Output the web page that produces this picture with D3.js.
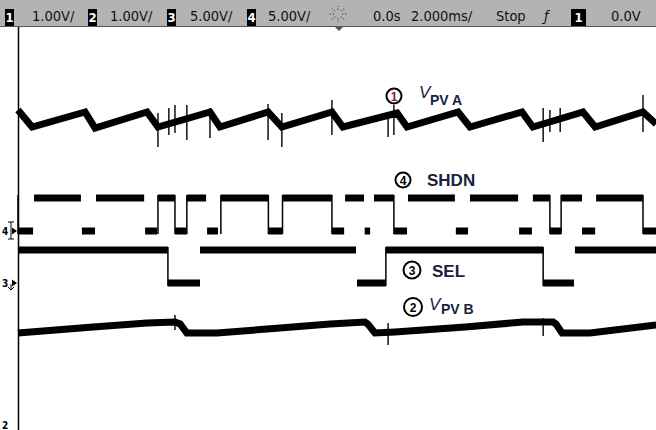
<!DOCTYPE html>
<html>
<head>
<meta charset="utf-8">
<script src="https://cdn.jsdelivr.net/npm/d3@7"></script>
<style>
body { margin:0; background:#fff; }
</style>
</head>
<body>
<svg id="scope" width="656" height="430"></svg>
<script>
// time in ms, values in volts
var vpvaTime  = [-10.00, -9.56, -7.91, -7.60, -5.98, -5.64, -4.02, -3.71, -2.21, -1.78, -0.22, 0.12, 1.81, 2.12, 3.71, 4.08, 5.70, 6.04, 7.60, 7.98, 9.47, 9.88];
var vpvaVolts = [10.34, 10.00, 10.30, 9.98, 10.30, 10.00, 10.30, 10.00, 10.30, 10.00, 10.30, 10.00, 10.28, 10.00, 10.30, 10.00, 10.30, 10.00, 10.30, 10.00, 10.30, 10.06];

var vpvaSpikeTime = [-5.64, -5.30, -5.11, -4.74, -4.02, -2.21, -1.78, -0.22, 1.53, 1.71, 6.36, 6.57, 6.89, 9.47];
var vpvaSpikeHi   = [10.28, 10.38, 10.44, 10.44, 10.38, 10.46, 10.28, 10.54, 10.28, 10.44, 10.38, 10.34, 10.38, 10.64];
var vpvaSpikeLo   = [9.60, 9.84, 9.88, 9.74, 9.78, 9.74, 9.60, 9.84, 9.80, 9.84, 9.70, 9.90, 9.90, 9.90];

var vpvbTime  = [-10.00, -7.66, -5.98, -5.11, -4.95, -4.74, -3.80, -1.84, -0.28, 0.81, 0.90, 1.12, 1.74, 3.93, 5.73, 6.67, 6.76, 6.95, 7.82, 9.88];
var vpvbVolts = [9.88, 10.00, 10.08, 10.10, 10.06, 9.88, 9.88, 9.98, 10.06, 10.10, 10.06, 9.88, 9.90, 10.00, 10.10, 10.10, 10.06, 9.88, 9.88, 10.04];

var vpvbSpikeTime = [-5.11, 1.53, 6.36];
var vpvbSpikeHi   = [10.24, 10.08, 10.18];
var vpvbSpikeLo   = [9.94, 9.64, 9.82];

// digital traces : [start, end, level]
var shdnSegs = [[-10.00,-9.53,0],[-9.50,-8.04,3.3],[-8.01,-7.60,0],[-7.57,-6.07,3.3],[-6.04,-5.67,0],[-5.64,-5.11,3.3],
  [-5.11,-4.74,0],[-4.74,-4.14,3.3],[-4.11,-3.77,0],[-3.68,-2.20,3.3],[-2.20,-1.76,0],[-1.76,-0.22,3.3],[-0.22,0.16,0],
  [0.19,0.78,3.3],[0.80,0.97,0],[1.09,1.71,3.3],[1.71,2.12,0],[2.15,3.61,3.3],[3.64,4.02,0],[4.08,5.58,3.3],[5.61,6.01,0],
  [6.04,6.57,3.3],[6.57,6.92,0],[6.92,7.57,3.3],[7.57,7.98,0],[8.01,9.47,3.3],[9.47,10.00,0]];
var shdnEdges = [-10.00, -5.64, -5.11, -4.74, -3.68, -2.20, -1.76, -0.22, 1.71, 6.57, 6.92, 9.47];

var selSegs = [[-10.00,-5.33,3.3],[-5.33,-4.33,0],[-4.33,0.53,3.3],[0.56,1.46,0],[1.46,6.36,3.3],[6.36,7.32,0],[7.35,10.00,3.3]];
var selEdges = [-5.33, 1.46, 6.36];

// channel setup: volts/div and screen centre voltage
var chVoltsDiv = [1, 1, 5, 5];
var chCenter   = [8, 12, 5.6, 0.4];
var chLabels   = ["1.00V/", "1.00V/", "5.00V/", "5.00V/"];

var svg = d3.select("#scope");
var screenTop = 27, screenBottom = 427;

var xScale = d3.scaleLinear().domain([-10, 10]).range([18, 660]);

function chScale(i){
  return d3.scaleLinear()
    .domain([chCenter[i] - 4*chVoltsDiv[i], chCenter[i] + 4*chVoltsDiv[i]])
    .range([screenBottom, screenTop]);
}
var y1 = chScale(0), y2 = chScale(1), y3 = chScale(2), y4 = chScale(3);

// status bar
svg.append("rect").attr("x",0).attr("y",0).attr("width",656).attr("height",26).attr("fill","#b3b3b3");
svg.append("line").attr("x1",0).attr("x2",656).attr("y1",26.5).attr("y2",26.5).attr("stroke","#555").attr("stroke-width",1);

var bar = svg.append("g")
  .attr("font-family","'DejaVu Sans Condensed', 'DejaVu Sans'")
  .attr("font-size","14.5px");

var boxX = [5, 88, 167, 247];
var labelX = [32, 110, 190, 268];
for(var i=0; i<4; i++){
  bar.append("rect").attr("x",boxX[i]).attr("y",9).attr("width",9).attr("height",17).attr("fill","#000");
  bar.append("text").attr("x",boxX[i]+4.5).attr("y",22).attr("text-anchor","middle")
    .attr("fill","#fff").attr("font-weight","bold").attr("font-size","13px").text(i+1);
  bar.append("text").attr("x",labelX[i]).attr("y",21).attr("fill","#111").text(chLabels[i]);
}

// acquisition icon
for(var a=0; a<8; a++){
  var ang = a*Math.PI/4;
  bar.append("line")
    .attr("x1",338+4*Math.cos(ang)).attr("y1",14+4*Math.sin(ang))
    .attr("x2",338+9*Math.cos(ang)).attr("y2",14+8*Math.sin(ang))
    .attr("stroke","#444").attr("stroke-width",1).attr("stroke-dasharray","1.5,1.5");
}
svg.append("path").attr("d","M335,27 L343,27 L339,31 Z").attr("fill","#555");

bar.append("text").attr("x",373).attr("y",21).attr("fill","#111").text("0.0s");
bar.append("text").attr("x",411).attr("y",21).attr("fill","#111").text("2.000ms/");
bar.append("text").attr("x",496).attr("y",21).attr("fill","#111").text("Stop");
bar.append("text").attr("x",544).attr("y",21).attr("fill","#111").attr("font-style","italic").text("ƒ");
bar.append("rect").attr("x",571).attr("y",9).attr("width",15).attr("height",17).attr("fill","#000");
bar.append("text").attr("x",578.5).attr("y",22).attr("text-anchor","middle").attr("fill","#fff").attr("font-weight","bold").attr("font-size","13px").text("1");
bar.append("text").attr("x",611).attr("y",21).attr("fill","#111").text("0.0V");

// left screen edge
svg.append("line").attr("x1",18.5).attr("x2",18.5).attr("y1",27).attr("y2",430)
  .attr("stroke","#000").attr("stroke-width",1.5);

// ground markers
var g4 = y4(0), g3 = y3(0);
var gm = svg.append("g").attr("font-family","'DejaVu Sans Condensed'").attr("font-size","10px").attr("font-weight","bold");
gm.append("text").attr("x",2).attr("y",g4+3.5).text("4");
gm.append("path").attr("d","M12,"+(g4-3.5)+" L17,"+g4+" L12,"+(g4+3.5)+" Z").attr("fill","#000");
gm.append("path").attr("d","M8,"+(g4-9)+" H14 M11,"+(g4-9)+" V"+(g4+8)+" M8,"+(g4+8)+" H14")
  .attr("stroke","#000").attr("stroke-width",1).attr("fill","none");
gm.append("text").attr("x",2).attr("y",g3+3.5).text("3");
gm.append("path").attr("d","M12,"+(g3-3.5)+" L17,"+g3+" L12,"+(g3+3.5)+" Z").attr("fill","#000");
gm.append("path").attr("d","M11,"+(g3+1)+" V"+(g3+7)+" M8,"+(g3+4)+" L11,"+(g3+7)+" L14,"+(g3+4))
  .attr("stroke","#000").attr("stroke-width",1).attr("fill","none");
gm.append("text").attr("x",2).attr("y",429).text("2");

// analog traces
var line1 = d3.line().x(function(d){ return xScale(d[0]); }).y(function(d){ return y1(d[1]); });
var line2 = d3.line().x(function(d){ return xScale(d[0]); }).y(function(d){ return y2(d[1]); });

svg.append("path").datum(d3.zip(vpvaTime, vpvaVolts))
  .attr("d", line1).attr("fill","none").attr("stroke","#000")
  .attr("stroke-width",7).attr("stroke-linejoin","miter");

svg.selectAll(".spikeA")
  .data(d3.range(vpvaSpikeTime.length))
  .enter().append("line")
  .attr("class","spikeA")
  .attr("x1", function(i){ return xScale(vpvaSpikeTime[i]); })
  .attr("x2", function(i){ return xScale(vpvaSpikeTime[i]); })
  .attr("y1", function(i){ return y1(vpvaSpikeHi[i]); })
  .attr("y2", function(i){ return y1(vpvaSpikeLo[i]); })
  .attr("stroke","#000").attr("stroke-width",1.4);

svg.append("path").datum(d3.zip(vpvbTime, vpvbVolts))
  .attr("d", line2).attr("fill","none").attr("stroke","#000")
  .attr("stroke-width",7);

svg.selectAll(".spikeB")
  .data(d3.range(vpvbSpikeTime.length))
  .enter().append("line")
  .attr("class","spikeB")
  .attr("x1", function(i){ return xScale(vpvbSpikeTime[i]); })
  .attr("x2", function(i){ return xScale(vpvbSpikeTime[i]); })
  .attr("y1", function(i){ return y2(vpvbSpikeHi[i]); })
  .attr("y2", function(i){ return y2(vpvbSpikeLo[i]); })
  .attr("stroke","#000").attr("stroke-width",1.4);

// digital traces
function DrawDigital(segs, edges, yS, cls, w){
  svg.selectAll("." + cls)
    .data(segs)
    .enter().append("line")
    .attr("class", cls)
    .attr("x1", function(d){ return xScale(d[0]); })
    .attr("x2", function(d){ return xScale(d[1]); })
    .attr("y1", function(d){ return yS(d[2]); })
    .attr("y2", function(d){ return yS(d[2]); })
    .attr("stroke","#000").attr("stroke-width",w);
  svg.selectAll("." + cls + "e")
    .data(edges)
    .enter().append("line")
    .attr("class", cls + "e")
    .attr("x1", function(d){ return xScale(d); })
    .attr("x2", function(d){ return xScale(d); })
    .attr("y1", yS(0) + 3)
    .attr("y2", yS(3.3) - 3)
    .attr("stroke","#000").attr("stroke-width",1.5);
}
DrawDigital(shdnSegs, shdnEdges, y4, "shdn", 7);
DrawDigital(selSegs, selEdges, y3, "sel", 7);

// channel annotations
var ann = svg.append("g").attr("font-family","'Liberation Sans', Arial, sans-serif");
function Badge(cx, cy, r, num, col){
  ann.append("circle").attr("cx",cx).attr("cy",cy).attr("r",r)
    .attr("fill","#fff").attr("stroke","#000").attr("stroke-width",2);
  ann.append("text").attr("x",cx).attr("y",cy+4.5).attr("text-anchor","middle")
    .attr("font-size","12px").attr("font-weight","bold").attr("fill",col).text(num);
}
Badge(394, 96, 7.5, "1", "#8b1a1a");
ann.append("text").attr("x",419).attr("y",98).attr("font-size","17px").attr("font-style","italic").attr("fill","#1a2140").text("V");
ann.append("text").attr("x",430).attr("y",105).attr("font-size","14px").attr("font-weight","bold").attr("fill","#1a2140").text("PV A");

Badge(403, 180, 7.5, "4", "#000");
ann.append("text").attr("x",427).attr("y",186).attr("font-size","17px").attr("font-weight","bold").attr("fill","#1a2140").text("SHDN");

Badge(412, 270, 8.5, "3", "#000");
ann.append("text").attr("x",432).attr("y",277).attr("font-size","17px").attr("font-weight","bold").attr("fill","#1a2140").text("SEL");

Badge(413, 307, 9, "2", "#000");
ann.append("text").attr("x",429).attr("y",310).attr("font-size","17px").attr("font-style","italic").attr("fill","#1a2140").text("V");
ann.append("text").attr("x",441).attr("y",314).attr("font-size","14px").attr("font-weight","bold").attr("fill","#1a2140").text("PV B");
</script>
</body>
</html>
